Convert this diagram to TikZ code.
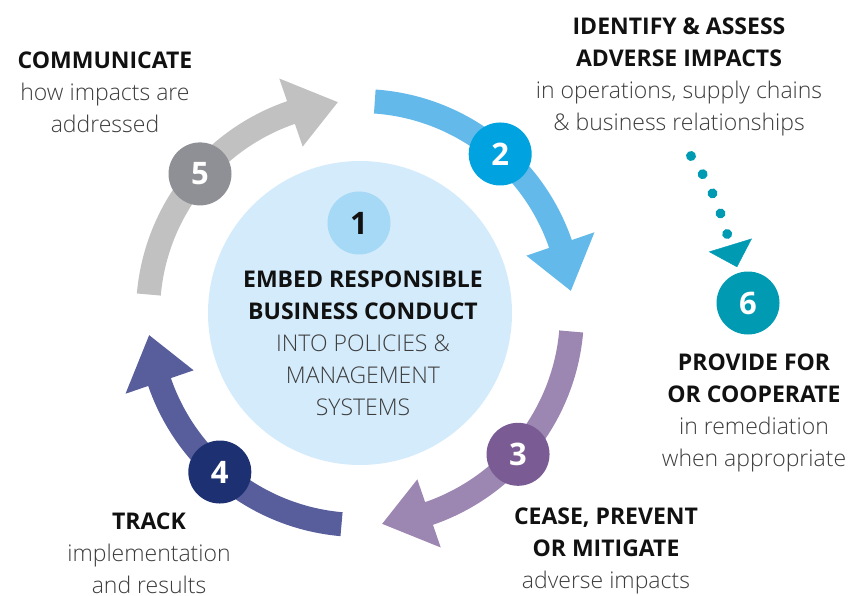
\documentclass[tikz,border=0pt]{standalone}
\usepackage{fontspec}
\setmainfont{Open Sans}
\IfFontExistsTF{Open Sans Light}{\newfontfamily\lightf{Open Sans Light}}{\newfontfamily\lightf{Open Sans}}
\usetikzlibrary{arrows.meta,decorations.markings}
\definecolor{circc}{HTML}{D4EBFB}
\definecolor{b1c}{HTML}{A6D9F5}
\definecolor{a2c}{HTML}{63B9E9}
\definecolor{b2c}{HTML}{00A3E0}
\definecolor{a3c}{HTML}{9C86B2}
\definecolor{b3c}{HTML}{7A5B94}
\definecolor{a4c}{HTML}{575E9B}
\definecolor{b4c}{HTML}{1D3172}
\definecolor{a5c}{HTML}{C1C1C1}
\definecolor{b5c}{HTML}{8F9095}
\definecolor{tealc}{HTML}{009AB3}
\definecolor{headc}{HTML}{111111}
\definecolor{lightc}{HTML}{3C3C3C}
\tikzset{
  badge/.style={circle, minimum size=63pt, inner sep=0pt, outer sep=0pt, text=white,
    font=\fontsize{31}{31}\selectfont\bfseries},
  lbl/.style={align=center, anchor=base, inner sep=0pt, font=\fontsize{23}{32}\selectfont},
  dotline/.style={postaction={decorate}, decoration={markings,
    mark=between positions 0pt and 87pt step 21.6pt with {\fill[tealc] (0,0) circle (5pt);},
    mark=at position 1 with {\arrow[tealc]{Triangle[width=45pt,length=23pt]}}}},
}
\newcommand\hd[1]{{\bfseries\color{headc}#1}}
\newcommand\lt[1]{{\lightf\color{lightc}#1}}
\newcommand\ringarrow[3]{%
  \fill[#1] (#2:224pt) arc[start angle=#2, end angle=#3+13, radius=224pt]
    -- ({#3+13}:248pt) -- (#3:212pt) -- ({#3+13}:176pt) -- ({#3+13}:200pt)
    arc[start angle=#3+13, end angle=#2, radius=200pt] -- cycle;}
\begin{document}
\begin{tikzpicture}[x=1pt,y=1pt]
\useasboundingbox (0,0) rectangle (850,595);
\begin{scope}[shift={(360,282)}]
  \node[circle, fill=circc, minimum size=304pt, inner sep=0pt, outer sep=0pt] (c1) at (0,0) {};
  \node[badge, fill=b1c, text=headc] (b1) at (-1,90) {1};
  \ringarrow{a2c}{86}{6}
  \ringarrow{a3c}{-5}{-84}
  \ringarrow{a4c}{-95}{-174}
  \ringarrow{a5c}{175}{96}
  \node[badge, fill=b2c] (b2) at (48.6:212pt) {2};
  \node[badge, fill=b3c] (b3) at (-41.8:212pt) {3};
  \node[badge, fill=b4c] (b4) at (-131.4:212pt) {4};
  \node[badge, fill=b5c] (b5) at (139:212pt) {5};
\end{scope}
\node[lbl] (t1) at (363,180) {\hd{EMBED RESPONSIBLE}\\\hd{BUSINESS CONDUCT}\\\lt{INTO POLICIES \&}\\\lt{MANAGEMENT}\\\lt{SYSTEMS}};
\node[lbl] (t5) at (105,462) {\hd{COMMUNICATE}\\\lt{how impacts are}\\\lt{addressed}};
\node[lbl] (t2) at (679,464) {\hd{IDENTIFY \& ASSESS}\\\hd{ADVERSE IMPACTS}\\\lt{in operations, supply chains}\\\lt{\& business relationships}};
\node[lbl] (t6) at (754,129) {\hd{PROVIDE FOR}\\\hd{OR COOPERATE}\\\lt{in remediation}\\\lt{when appropriate}};
\node[lbl] (t4) at (149,2) {\hd{TRACK}\\\lt{implementation}\\\lt{and results}};
\node[lbl] (t3) at (606,7) {\hd{CEASE, PREVENT}\\\hd{OR MITIGATE}\\\lt{adverse impacts}};
\node[badge, fill=tealc] (b6) at (748,292) {6};
\coordinate (d6) at (691,439);
\path[dotline] (d6) to[out=-55, in=107] ([shift={(107:6pt)}]b6.107);
\end{tikzpicture}
\end{document}
